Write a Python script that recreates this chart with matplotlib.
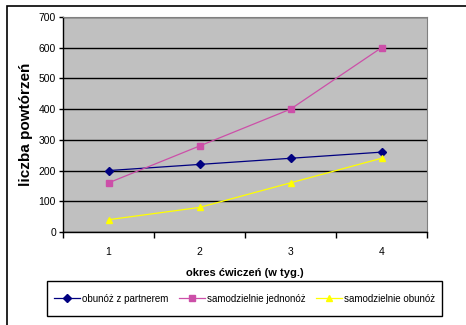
import matplotlib
matplotlib.use("Agg")
import matplotlib.pyplot as plt
from matplotlib.patches import Rectangle

plt.rcParams["font.family"] = ["Liberation Sans", "DejaVu Sans"]

weeks = [1, 2, 3, 4]
obunoz_partner = [200, 220, 240, 260]
samodz_jednonoz = [160, 280, 400, 600]
samodz_obunoz = [40, 80, 160, 240]

W, H = 466, 325
fig = plt.figure(figsize=(W / 100, H / 100), dpi=100)
fig.patch.set_facecolor("white")

# outer chart border (runs off the right and bottom edge, like the source)
fig.patches.append(Rectangle((7 / W, -10 / H), 470 / W, 329 / H, transform=fig.transFigure,
                             fill=False, edgecolor="black", linewidth=1.2))

ax = fig.add_axes([63 / W, (H - 232) / H, 364 / W, 215 / H])
ax.set_facecolor("#C0C0C0")

ax.plot(weeks, obunoz_partner, color="#000080", marker="D", markersize=4, linewidth=0.9,
        label="obunóż z partnerem")
ax.plot(weeks, samodz_jednonoz, color="#CC4FA8", marker="s", markersize=4.5, linewidth=0.9,
        label="samodzielnie jednonóż")
ax.plot(weeks, samodz_obunoz, color="#FFFF00", marker="^", markersize=5, linewidth=0.9,
        label="samodzielnie obunóż")

ax.set_xlim(0.5, 4.5)
ax.set_ylim(0, 700)
ax.set_yticks(range(0, 701, 100))
ax.yaxis.grid(True, color="black", linewidth=1.0)
ax.set_axisbelow(True)

ax.set_xticks([0.5, 1.5, 2.5, 3.5, 4.5])
ax.set_xticklabels([])
ax.set_xticks(weeks, minor=True)
ax.set_xticklabels([str(w) for w in weeks], minor=True)
ax.tick_params(axis="x", which="major", length=4, width=1, direction="out")
ax.tick_params(axis="x", which="minor", length=0, pad=11, labelsize=7.5)
ax.tick_params(axis="y", length=3, width=1, direction="out", labelsize=7.5, pad=2)

for side in ("top", "right"):
    ax.spines[side].set_color("#808080")
for side in ("left", "bottom"):
    ax.spines[side].set_color("black")
    ax.spines[side].set_linewidth(1.0)

ax.set_ylabel("liczba powtórzeń", fontsize=11, fontweight="bold", labelpad=4)
ax.set_xlabel("okres ćwiczeń (w tyg.)", fontsize=8, fontweight="bold", labelpad=8)

# legend box
fig.patches.append(Rectangle((47 / W, (H - 316) / H), 395 / W, 35 / H, transform=fig.transFigure,
                             fill=True, facecolor="white", edgecolor="black", linewidth=1.0))
leg = fig.legend(loc="center", bbox_to_anchor=(244.5 / W, (H - 298.5) / H), ncol=3,
                 fontsize=7, frameon=False, handlelength=2.7, columnspacing=1.1,
                 handletextpad=0.15, borderpad=0.3)

fig.savefig("out.png", dpi=100, facecolor="white")
